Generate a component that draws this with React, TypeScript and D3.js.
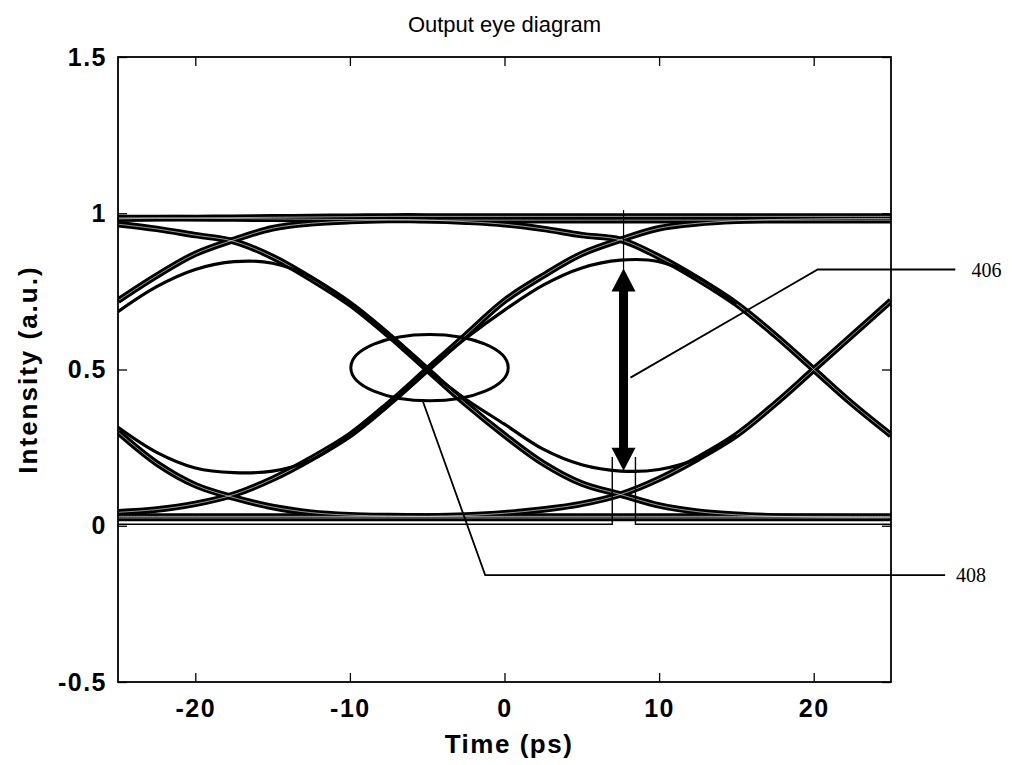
import * as d3 from 'd3';
import { useEffect, useRef } from 'react';

// time samples (ps) shared by every trace below
const timeGrid = [-25, -22.5, -20, -17.5, -15, -12.5, -10, -7.5, -5, -2.5, 0, 2.5, 5, 7.5, 10, 12.5, 15, 17.5, 20, 22.5, 25];

const xTicks = [-20, -10, 0, 10, 20];
const yTicks = [-0.5, 0, 0.5, 1, 1.5];

// flat levels
const onesLevel = [0.982, 0.984, 0.985, 0.986, 0.987, 0.988, 0.989, 0.99, 0.99, 0.99, 0.99, 0.99, 0.99, 0.99, 0.99, 0.99, 0.99, 0.99, 0.99, 0.99, 0.99];
const zerosLevel = [0.025, 0.025, 0.025, 0.025, 0.025, 0.025, 0.025, 0.025, 0.025, 0.025, 0.025, 0.025, 0.025, 0.025, 0.025, 0.025, 0.025, 0.025, 0.025, 0.025, 0.025];

// edges crossing at -30 ps (seen only on the left)
const riseLeft = [0.72, 0.80, 0.87, 0.915, 0.952, 0.968, 0.975, 0.978, 0.978, 0.978, 0.978, 0.978, 0.978, 0.978, 0.978, 0.978, 0.978, 0.978, 0.978, 0.978, 0.978];
const fallLeft = [0.30, 0.20, 0.13, 0.09, 0.06, 0.042, 0.034, 0.031, 0.03, 0.03, 0.03, 0.03, 0.03, 0.03, 0.03, 0.03, 0.03, 0.03, 0.03, 0.03, 0.03];

// edges crossing at -5 ps
const riseMid = [0.043, 0.052, 0.07, 0.10, 0.15, 0.215, 0.29, 0.39, 0.50, 0.61, 0.72, 0.80, 0.87, 0.915, 0.952, 0.968, 0.976, 0.98, 0.982, 0.983, 0.983];
const fallMid = [0.965, 0.95, 0.93, 0.91, 0.86, 0.79, 0.71, 0.61, 0.50, 0.39, 0.29, 0.20, 0.135, 0.10, 0.065, 0.045, 0.035, 0.03, 0.028, 0.027, 0.027];

// edges crossing at 20 ps
const riseRight = [0.03, 0.03, 0.03, 0.03, 0.03, 0.03, 0.03, 0.03, 0.03, 0.033, 0.04, 0.052, 0.07, 0.10, 0.15, 0.215, 0.29, 0.39, 0.50, 0.61, 0.72];
const fallRight = [0.985, 0.985, 0.984, 0.983, 0.982, 0.981, 0.98, 0.98, 0.978, 0.973, 0.965, 0.95, 0.93, 0.915, 0.86, 0.79, 0.71, 0.61, 0.50, 0.39, 0.29];

// isolated bits (0-1-0 and 1-0-1) centred at -17.5 ps and 7.5 ps
const pulseHiLeft = [0.685, 0.765, 0.82, 0.845, 0.84, 0.795, 0.71, 0.61, null, null, null, null, null, null, null, null, null, null, null, null, null];
const pulseLoLeft = [0.315, 0.235, 0.185, 0.17, 0.175, 0.21, 0.29, 0.39, null, null, null, null, null, null, null, null, null, null, null, null, null];
const pulseHiRight = [null, null, null, null, null, null, null, 0.39, 0.50, 0.60, 0.69, 0.77, 0.825, 0.85, 0.845, 0.795, 0.71, null, null, null, null];
const pulseLoRight = [null, null, null, null, null, null, null, 0.61, 0.50, 0.405, 0.325, 0.245, 0.195, 0.175, 0.18, 0.215, 0.29, null, null, null, null];

const bands = [onesLevel, zerosLevel, riseLeft, fallLeft, riseMid, fallMid, riseRight, fallRight];
const pulses = [pulseHiLeft, pulseLoLeft, pulseHiRight, pulseLoRight];

// annotation anchors in data units
const arrowT = 7.7;
const arrowTop = 0.823;
const arrowBottom = 0.176;
const ellipseCenter = [-4.85, 0.506];
const ellipseRadius = [5.09, 0.106];
const leader406 = [[8.15, 0.474], [20.26, 0.82], [29.16, 0.82]];
const leader408 = [[-5.27, 0.397], [-1.25, -0.158], [28.5, -0.158]];
const windowLeft = [[-25, 0.005], [6.97, 0.005], [6.97, 0.22]];
const windowRight = [[8.47, 0.22], [8.47, 0.005], [25, 0.005]];

const sans = 'Liberation Sans, Arial, Helvetica, sans-serif';
const serif = 'Liberation Serif, Times New Roman, serif';

export default function App() {
  const svgRef = useRef<SVGSVGElement>(null);

  useEffect(() => {
    drawChart(svgRef.current);
  }, []);

  return (
    <svg ref={svgRef} width={1012} height={765}
      style={{ position: 'absolute', left: 0, top: 0, background: '#fff' }} />
  );
}

function drawChart(el: SVGSVGElement | null) {
  if (!el) return;
  const left = 118, right = 891, top = 57, bottom = 682;

  const x = d3.scaleLinear().domain([-25, 25]).range([left, right]);
  const y = d3.scaleLinear().domain([-0.5, 1.5]).range([bottom, top]);

  const svg = d3.select(el);
  svg.selectAll('*').remove();

  svg.append('defs').append('clipPath').attr('id', 'plotClip')
    .append('rect').attr('x', left).attr('y', top).attr('width', right - left).attr('height', bottom - top);

  const plot = svg.append('g').attr('clip-path', 'url(#plotClip)');

  const line = d3.line<number | null>()
    .defined(d => d !== null)
    .x((d, i) => x(timeGrid[i]))
    .y(d => y(d as number))
    .curve(d3.curveCatmullRom.alpha(0.5));

  // thick bands drawn black then split by a thin light core, like overlaid traces
  bands.forEach(s => {
    plot.append('path').datum(s).attr('d', line)
      .attr('fill', 'none').attr('stroke', '#000').attr('stroke-width', 6.5);
  });
  bands.forEach(s => {
    plot.append('path').datum(s).attr('d', line)
      .attr('fill', 'none').attr('stroke', '#fff').attr('stroke-width', 1).attr('stroke-opacity', 0.6);
  });
  pulses.forEach(s => {
    plot.append('path').datum(s).attr('d', line)
      .attr('fill', 'none').attr('stroke', '#000').attr('stroke-width', 3.2);
  });

  const pts = d3.line<number[]>().x(d => x(d[0])).y(d => y(d[1]));

  // sampling window lines
  plot.append('path').datum(windowLeft).attr('d', pts).attr('fill', 'none').attr('stroke', '#000').attr('stroke-width', 1.4);
  plot.append('path').datum(windowRight).attr('d', pts).attr('fill', 'none').attr('stroke', '#000').attr('stroke-width', 1.4);

  // thin marker through the eye centre
  svg.append('line')
    .attr('x1', x(arrowT)).attr('x2', x(arrowT))
    .attr('y1', y(1.01)).attr('y2', y(0.5))
    .attr('stroke', '#000').attr('stroke-width', 1.2);

  // eye-opening arrow (406)
  const ax = x(arrowT), ay1 = y(arrowTop), ay2 = y(arrowBottom);
  const headL = 23, headW = 12;
  svg.append('line')
    .attr('x1', ax).attr('x2', ax).attr('y1', ay1 + headL - 2).attr('y2', ay2 - headL + 2)
    .attr('stroke', '#000').attr('stroke-width', 9);
  svg.append('path')
    .attr('d', `M${ax},${ay1} L${ax - headW},${ay1 + headL} L${ax + headW},${ay1 + headL} Z`)
    .attr('fill', '#000');
  svg.append('path')
    .attr('d', `M${ax},${ay2} L${ax - headW},${ay2 - headL} L${ax + headW},${ay2 - headL} Z`)
    .attr('fill', '#000');

  // crossing ellipse (408)
  svg.append('ellipse')
    .attr('cx', x(ellipseCenter[0])).attr('cy', y(ellipseCenter[1]))
    .attr('rx', x(ellipseRadius[0]) - x(0)).attr('ry', y(0) - y(ellipseRadius[1]))
    .attr('fill', 'none').attr('stroke', '#000').attr('stroke-width', 3);

  // frame
  svg.append('rect')
    .attr('x', left).attr('y', top).attr('width', right - left).attr('height', bottom - top)
    .attr('fill', 'none').attr('stroke', '#000').attr('stroke-width', 1.8);

  // axes with inward ticks on all four sides
  const bottomAxis = svg.append('g').attr('transform', `translate(0,${bottom})`)
    .call(d3.axisBottom(x).tickValues(xTicks).tickSizeInner(-9).tickSizeOuter(0).tickPadding(17).tickFormat(d => String(d)));
  const leftAxis = svg.append('g').attr('transform', `translate(${left},0)`)
    .call(d3.axisLeft(y).tickValues(yTicks).tickSizeInner(-9).tickSizeOuter(0).tickPadding(11).tickFormat(d => String(d)));
  svg.append('g').attr('transform', `translate(0,${top})`)
    .call(d3.axisTop(x).tickValues(xTicks).tickSizeInner(-9).tickSizeOuter(0).tickFormat(() => ''));
  svg.append('g').attr('transform', `translate(${right},0)`)
    .call(d3.axisRight(y).tickValues(yTicks).tickSizeInner(-9).tickSizeOuter(0).tickFormat(() => ''));

  svg.selectAll('.domain').remove();
  svg.selectAll('.tick line').attr('stroke', '#000').attr('stroke-width', 1.3);

  [bottomAxis, leftAxis].forEach(g => {
    g.selectAll('text')
      .attr('font-family', sans).attr('font-size', 25).attr('font-weight', 'bold').attr('fill', '#000')
      .attr('letter-spacing', 1.5);
  });

  // leaders and reference numerals
  svg.append('path').datum(leader406).attr('d', pts).attr('fill', 'none').attr('stroke', '#000').attr('stroke-width', 1.8);
  svg.append('path').datum(leader408).attr('d', pts).attr('fill', 'none').attr('stroke', '#000').attr('stroke-width', 1.8);

  svg.append('text').attr('x', x(30.2)).attr('y', y(0.82) + 7)
    .attr('font-family', serif).attr('font-size', 20).text('406');
  svg.append('text').attr('x', x(29.2)).attr('y', y(-0.158) + 7)
    .attr('font-family', serif).attr('font-size', 20).text('408');

  // titles
  svg.append('text').attr('x', (left + right) / 2).attr('y', 32)
    .attr('text-anchor', 'middle').attr('font-family', sans).attr('font-size', 22)
    .text('Output eye diagram');
  svg.append('text').attr('x', 509).attr('y', 753)
    .attr('text-anchor', 'middle').attr('font-family', sans).attr('font-size', 26)
    .attr('font-weight', 'bold').attr('letter-spacing', 1.5)
    .text('Time (ps)');
  svg.append('text').attr('transform', `translate(37,${(top + bottom) / 2}) rotate(-90)`)
    .attr('text-anchor', 'middle').attr('font-family', sans).attr('font-size', 26)
    .attr('font-weight', 'bold').attr('letter-spacing', 2)
    .text('Intensity (a.u.)');
}
